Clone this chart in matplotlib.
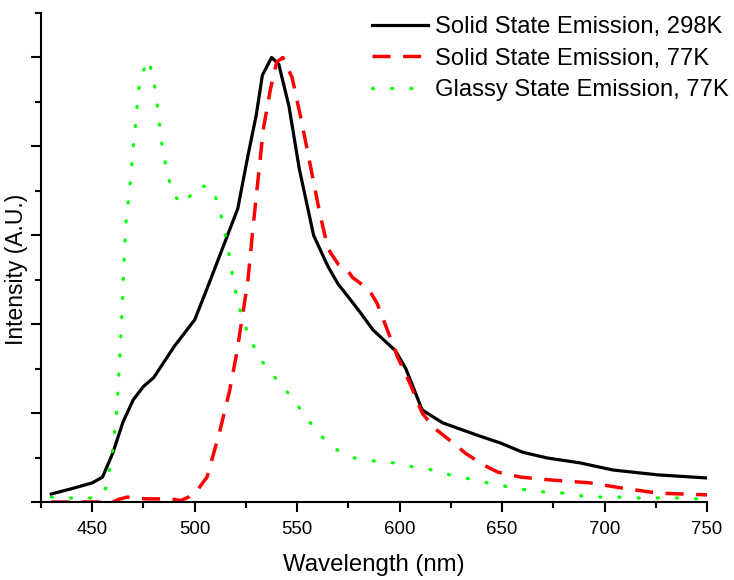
import matplotlib
matplotlib.use("Agg")
import matplotlib.pyplot as plt
from matplotlib.ticker import MultipleLocator, NullFormatter

plt.rcParams["font.family"] = ["Liberation Sans", "DejaVu Sans"]

# Solid state emission, 298 K
wl_298 = [430, 440, 450, 455, 460, 465, 470, 475, 480, 490, 500, 506, 511, 516,
          521, 526, 530, 533, 537.5, 541, 546, 551, 558, 565, 570, 576, 581, 587,
          598, 603, 611, 621, 638, 649, 660, 672, 688, 704, 726, 750]
int_298 = [0.018, 0.030, 0.043, 0.056, 0.11, 0.18, 0.23, 0.26, 0.28, 0.35, 0.41,
           0.48, 0.54, 0.60, 0.66, 0.78, 0.87, 0.96, 1.00, 0.985, 0.89, 0.75, 0.60,
           0.53, 0.49, 0.455, 0.425, 0.387, 0.34, 0.30, 0.207, 0.178, 0.150, 0.133,
           0.112, 0.099, 0.088, 0.072, 0.061, 0.054]

# Solid state emission, 77 K
wl_77 = [430, 440, 450, 460, 463, 467, 472, 478, 485, 490, 493, 497, 501, 506, 512,
         517, 520.5, 523.5, 526, 528.5, 531, 533.5, 537, 540, 543, 547.5, 551.5, 555,
         558, 561, 565, 570, 574, 577, 585, 589, 594, 599, 605, 611, 617, 626, 632,
         641, 648, 659, 675, 693, 709, 726, 750]
int_77 = [0.0, 0.0, 0.0, 0.0, 0.006, 0.011, 0.008, 0.007, 0.007, 0.006, 0.003, 0.011,
          0.025, 0.056, 0.155, 0.25, 0.335, 0.425, 0.50, 0.62, 0.73, 0.84, 0.93, 0.99,
          1.0, 0.955, 0.87, 0.79, 0.72, 0.65, 0.57, 0.535, 0.525, 0.505, 0.478, 0.447,
          0.387, 0.326, 0.267, 0.20, 0.166, 0.133, 0.11, 0.083, 0.067, 0.056, 0.049,
          0.043, 0.031, 0.020, 0.016]

# Glassy state emission, 77 K
wl_glass = [430, 439, 449, 454, 457, 460, 462, 463, 464.5, 465.5, 466.5, 468.5, 470,
            471, 472.5, 474.5, 477.5, 480, 481.5, 483.5, 485, 487, 489, 494, 498, 502,
            508, 512, 514, 516, 517.5, 519, 521, 523.5, 527, 531.5, 539, 546.5, 553,
            560, 569.5, 578, 588, 597, 606.5, 616, 624.5, 634, 643, 653, 662, 672, 681,
            689.5, 699, 708.5, 717, 727, 736, 745.5, 750]
int_glass = [0.011, 0.009, 0.009, 0.015, 0.034, 0.117, 0.207, 0.29, 0.425, 0.54, 0.63,
             0.717, 0.80, 0.843, 0.926, 0.966, 0.995, 0.948, 0.903, 0.82, 0.775, 0.735,
             0.694, 0.67, 0.69, 0.712, 0.708, 0.665, 0.618, 0.578, 0.537, 0.494, 0.45,
             0.409, 0.368, 0.324, 0.281, 0.24, 0.20, 0.155, 0.117, 0.099, 0.092, 0.088,
             0.079, 0.072, 0.061, 0.052, 0.043, 0.034, 0.027, 0.022, 0.020, 0.013,
             0.011, 0.011, 0.009, 0.009, 0.009, 0.007, 0.007]

labels = ["Solid State Emission, 298K", "Solid State Emission, 77K",
          "Glassy State Emission, 77K"]

fig = plt.figure(figsize=(7.34, 5.80), dpi=100)
ax = fig.add_axes([0.0559, 0.1345, 0.9074, 0.843])

ax.plot(wl_298, int_298, color="black", linewidth=2.3, label=labels[0])
ax.plot(wl_77, int_77, color="#ff0000", linewidth=2.5, linestyle=(0, (5.2, 3.6)),
        label=labels[1])
ax.plot(wl_glass, int_glass, color="#00ff00", linewidth=2.3,
        linestyle=(0, (0.35, 5.65)), dash_capstyle="round", label=labels[2])

ax.set_xlim(425, 750)
ax.set_ylim(0, 1.1)
ax.spines["top"].set_visible(False)
ax.spines["right"].set_visible(False)
for s in ("left", "bottom"):
    ax.spines[s].set_linewidth(1.5)

ax.xaxis.set_major_locator(MultipleLocator(50))
ax.xaxis.set_minor_locator(MultipleLocator(25))
ax.yaxis.set_major_locator(MultipleLocator(0.2))
ax.yaxis.set_minor_locator(MultipleLocator(0.1))
ax.yaxis.set_major_formatter(NullFormatter())
ax.tick_params(axis="both", which="major", length=7.5, width=1.5, labelsize=13.4)
ax.tick_params(axis="both", which="minor", length=4, width=1.5)
ax.tick_params(axis="x", pad=6)

ax.set_xlabel("Wavelength (nm)", fontsize=17.3, labelpad=12)
ax.set_ylabel("Intensity (A.U.)", fontsize=16.5)
ax.yaxis.set_label_coords(-0.02, 0.476)

ax.legend(loc="upper left", bbox_to_anchor=(372 / 734, 1 - 16 / 580),
          bbox_transform=fig.transFigure, frameon=False, fontsize=17.1,
          handlelength=2.35, handletextpad=0.3, labelspacing=0.4,
          borderpad=0, borderaxespad=0)

fig.savefig("out.png", dpi=100)
